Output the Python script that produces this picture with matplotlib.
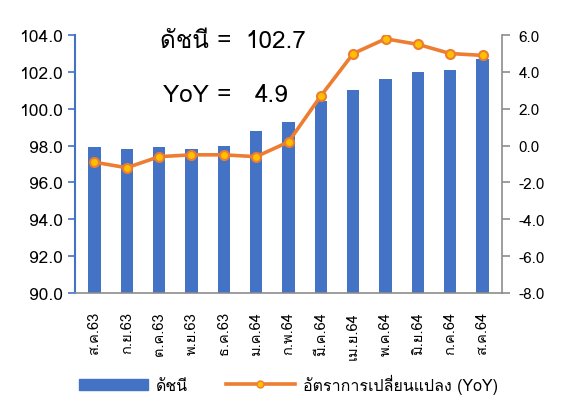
import matplotlib
matplotlib.use('Agg')
import matplotlib.pyplot as plt
from matplotlib import font_manager
from matplotlib.ft2font import FT2Font
from matplotlib.lines import Line2D
from matplotlib.patches import Patch

months = ['ส.ค.63', 'ก.ย.63', 'ต.ค.63', 'พ.ย.63', 'ธ.ค.63', 'ม.ค.64', 'ก.พ.64',
          'มี.ค.64', 'เม.ย.64', 'พ.ค.64', 'มิ.ย.64', 'ก.ค.64', 'ส.ค.64']
index_vals = [97.9, 97.8, 97.9, 97.8, 98.0, 98.8, 99.3, 100.4, 101.0, 101.6, 102.0, 102.1, 102.7]
yoy_vals = [-0.9, -1.2, -0.6, -0.5, -0.5, -0.6, 0.2, 2.7, 5.0, 5.8, 5.5, 5.0, 4.9]

# find a font that can draw Thai
thai_font = None
for f in font_manager.fontManager.ttflist:
    try:
        ft = FT2Font(f.fname)
        if ft.get_char_index(ord('ด')) and ft.get_char_index(ord('1')):
            thai_font = f.name
            break
    except Exception:
        pass
fams = ([thai_font] if thai_font else []) + ['DejaVu Sans']
plt.rcParams['font.family'] = fams

blue = '#4472C4'
orange = '#ED7D31'
gold = '#FFC000'
gray = '#8C8C8C'

fig = plt.figure(figsize=(5.62, 4.06), dpi=100)
ax = fig.add_axes([0.1335, 0.276, 0.7597, 0.635])
x = list(range(len(months)))
ax.bar(x, index_vals, width=0.38, color=blue, zorder=2)
ax.set_ylim(90, 104)
ax.set_xlim(-0.6, len(months) - 0.4)
ax.set_yticks([90 + 2 * i for i in range(8)])
ax.set_yticklabels(['%.1f' % (90 + 2 * i) for i in range(8)], fontsize=12.5)
ax.set_xticks(x)
ax.set_xticklabels(months, rotation=90, fontsize=10.5)
ax.tick_params(axis='x', length=0, pad=13)
ax.tick_params(axis='y', colors=blue, labelcolor='black', length=5, width=1.2, pad=4)
ax.spines['left'].set_color(blue)
ax.spines['left'].set_linewidth(1.5)
ax.spines['bottom'].set_color(gray)
ax.spines['bottom'].set_linewidth(1.2)
ax.spines['top'].set_visible(False)
ax.spines['right'].set_visible(False)

ax2 = ax.twinx()
ax2.plot(x, yoy_vals, color=orange, lw=2.6, marker='o', markersize=6.5,
         markerfacecolor=gold, markeredgecolor=orange, markeredgewidth=1.5, zorder=3)
ax2.set_ylim(-8, 6)
ax2.set_yticks([-8 + 2 * i for i in range(8)])
ax2.set_yticklabels(['%.1f' % (-8 + 2 * i) for i in range(8)], fontsize=11)
ax2.tick_params(axis='y', colors=gray, labelcolor='black', length=6, width=1.2, pad=6)
ax2.spines['right'].set_color(gray)
ax2.spines['right'].set_linewidth(1.2)
for s in ['top', 'left', 'bottom']:
    ax2.spines[s].set_visible(False)

fig.text(160 / 562, 1 - 42 / 406, 'ดัชนี =', fontsize=17.5, va='center')
fig.text(245 / 562, 1 - 42 / 406, '102.7', fontsize=17.5, va='center')
fig.text(163 / 562, 1 - 96 / 406, 'YoY =', fontsize=17.5, va='center')
fig.text(255 / 562, 1 - 96 / 406, '4.9', fontsize=17.5, va='center')

handles = [Patch(color=blue),
           Line2D([0], [0], color=orange, lw=2.6, marker='o', markersize=5,
                  markerfacecolor=gold, markeredgecolor=orange)]
fig.legend(handles, ['ดัชนี', 'อัตราการเปลี่ยนแปลง (YoY)'], loc='center',
           bbox_to_anchor=(0.513, 0.052), ncol=2, frameon=False, fontsize=11.5,
           handlelength=4.3, handletextpad=0.5, columnspacing=2.4)

fig.savefig('out.png', dpi=100)
